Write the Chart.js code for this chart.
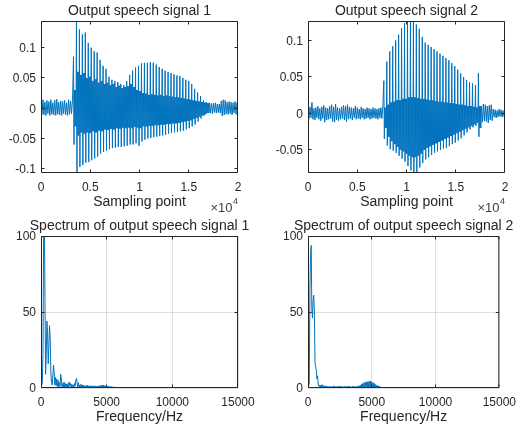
<!DOCTYPE html>
<html>
<head>
<meta charset="utf-8">
<script src="https://cdn.jsdelivr.net/npm/chart.js@4.4.1/dist/chart.umd.min.js"></script>
<style>
    html, body { margin: 0; padding: 0; background: #ffffff; }
    #fig { position: relative; width: 523px; height: 429px; overflow: hidden; }
    #fig canvas { position: absolute; }
</style>
</head>
<body>
<div id="fig">
    <canvas id="wave1" width="262" height="215" style="left:0;top:0"></canvas>
    <canvas id="wave2" width="261" height="215" style="left:262px;top:0"></canvas>
    <canvas id="spec1" width="262" height="214" style="left:0;top:215px"></canvas>
    <canvas id="spec2" width="261" height="214" style="left:262px;top:215px"></canvas>
</div>
<script>
// ---- data ----
// waveforms: noise is one value per 100 samples, voiced part is one pitch period
// (300 samples) per entry: pulse top, pulse bottom, and the dense band it sits in
const noiseStep = 100;
const periodLength = 300;

const lead1 = [
    0.012, -0.010, 0.014, -0.011, 0.010, -0.012, 0.013, -0.009, 0.011, -0.012,
    0.014, -0.010, 0.009, -0.011, 0.013, -0.012, 0.015, -0.010, 0.010, -0.011,
    0.012, -0.012, 0.011, -0.009, 0.013, -0.011, 0.009, -0.012, 0.014, -0.010,
    0.012, -0.009, 0.013
];
const onset1 = 3300;
const pulseTop1 = [
    0.085, 0.144, 0.130, 0.122, 0.125, 0.108, 0.100, 0.094, 0.092, 0.080,
    0.070, 0.065, 0.052, 0.047, 0.045, 0.043, 0.040, 0.038, 0.045, 0.055,
    0.062, 0.067, 0.070, 0.074, 0.075, 0.075, 0.076, 0.075, 0.072, 0.068,
    0.065, 0.062, 0.060, 0.058, 0.056, 0.054, 0.053, 0.050, 0.047, 0.045,
    0.040, 0.032, 0.026, 0.020, 0.013, 0.010
];
const pulseBottom1 = [
    -0.060, -0.107, -0.097, -0.094, -0.090, -0.089, -0.086, -0.083, -0.080, -0.075,
    -0.072, -0.070, -0.068, -0.066, -0.065, -0.064, -0.064, -0.063, -0.062, -0.060,
    -0.060, -0.058, -0.062, -0.055, -0.052, -0.050, -0.049, -0.048, -0.047, -0.046,
    -0.045, -0.044, -0.042, -0.041, -0.040, -0.039, -0.038, -0.037, -0.035, -0.033,
    -0.030, -0.027, -0.022, -0.017, -0.012, -0.008
];
const bandHigh1 = [
    0.030, 0.060, 0.055, 0.058, 0.050, 0.052, 0.045, 0.048, 0.042, 0.045,
    0.040, 0.042, 0.038, 0.040, 0.035, 0.037, 0.033, 0.035, 0.036, 0.040,
    0.035, 0.030, 0.028, 0.025, 0.024, 0.022, 0.023, 0.022, 0.021, 0.022,
    0.020, 0.021, 0.020, 0.019, 0.018, 0.018, 0.017, 0.016, 0.015, 0.014,
    0.013, 0.012, 0.011, 0.010, 0.009, 0.008
];
const bandLow1 = [
    -0.030, -0.045, -0.040, -0.042, -0.040, -0.041, -0.038, -0.040, -0.037, -0.038,
    -0.035, -0.036, -0.034, -0.035, -0.033, -0.034, -0.032, -0.033, -0.032, -0.033,
    -0.031, -0.032, -0.033, -0.030, -0.030, -0.029, -0.029, -0.028, -0.028, -0.027,
    -0.027, -0.026, -0.026, -0.025, -0.025, -0.024, -0.023, -0.022, -0.021, -0.020,
    -0.018, -0.016, -0.014, -0.012, -0.010, -0.008
];
const tail1 = [
    0.009, -0.008, 0.008, -0.009, 0.008, -0.007, 0.009, -0.008, 0.007, -0.007,
    0.007, -0.008, 0.012, -0.013, 0.014, -0.011, 0.013, -0.010, 0.010, -0.010,
    0.011, -0.009, 0.010, -0.011, 0.009, -0.008, 0.011, -0.010, 0.009, -0.007
];

const lead2 = [
    0.006, -0.007, 0.009, -0.006, 0.015, -0.008, 0.007, -0.009, 0.008, -0.006,
    0.010, -0.008, 0.007, -0.010, 0.009, -0.007, 0.011, -0.012, 0.008, -0.009,
    0.007, -0.008, 0.010, -0.007, 0.012, -0.011, 0.009, -0.012, 0.013, -0.009,
    0.008, -0.010, 0.007, -0.008, 0.009, -0.007, 0.011, -0.009, 0.010, -0.011,
    0.012, -0.008, 0.009, -0.007, 0.008, -0.009, 0.007, -0.006, 0.010, -0.008,
    0.008, -0.007, 0.006, -0.008, 0.009, -0.006, 0.007, -0.008, 0.006, -0.007,
    0.008, -0.006, 0.007, -0.008, 0.006, -0.007, 0.008, -0.006, 0.007, -0.007,
    0.006, -0.008, 0.007, -0.006, 0.008, -0.007, 0.010
];
const onset2 = 7700;
const pulseTop2 = [
    0.045, 0.071, 0.085, 0.092, 0.100, 0.108, 0.117, 0.124, 0.126, 0.1267,
    0.1267, 0.122, 0.116, 0.105, 0.097, 0.094, 0.091, 0.088, 0.085, 0.082,
    0.079, 0.076, 0.073, 0.069, 0.065, 0.060, 0.055, 0.050, 0.046, 0.043,
    0.041, 0.039, 0.055
];
const pulseBottom2 = [
    -0.035, -0.044, -0.049, -0.051, -0.054, -0.058, -0.062, -0.066, -0.072, -0.078,
    -0.0816, -0.080, -0.074, -0.068, -0.063, -0.060, -0.057, -0.054, -0.052, -0.050,
    -0.048, -0.047, -0.045, -0.042, -0.040, -0.037, -0.034, -0.030, -0.026, -0.022,
    -0.019, -0.017, -0.032
];
const bandHigh2 = [
    0.008, 0.012, 0.015, 0.016, 0.018, 0.018, 0.020, 0.020, 0.022, 0.022,
    0.022, 0.021, 0.020, 0.020, 0.019, 0.018, 0.018, 0.017, 0.016, 0.016,
    0.015, 0.015, 0.014, 0.014, 0.013, 0.012, 0.012, 0.011, 0.010, 0.010,
    0.009, 0.008, 0.010
];
const bandLow2 = [
    -0.020, -0.032, -0.038, -0.042, -0.046, -0.050, -0.052, -0.055, -0.058, -0.060,
    -0.060, -0.058, -0.055, -0.050, -0.047, -0.045, -0.043, -0.041, -0.039, -0.037,
    -0.035, -0.033, -0.031, -0.029, -0.027, -0.025, -0.023, -0.021, -0.019, -0.017,
    -0.015, -0.013, -0.020
];
const tail2 = [
    0.010, -0.012, 0.013, -0.010, 0.012, -0.011, 0.010, -0.013, 0.011, -0.009,
    0.012, -0.010, 0.006, -0.005, 0.005, -0.006, 0.004, -0.005, 0.006, -0.004,
    0.005, -0.005, 0.004, -0.004, 0.003
];

// spectra: one magnitude per 50 Hz up to 6000 Hz, then one per 500 Hz
const binStep = 50;
const coarseStep = 500;
const spec1Fine = [
    0.4, 1.5, 4, 22, 105, 125, 60, 9, 22, 44,
    36, 16, 28, 41, 33, 10, 4, 2, 8, 15,
    11, 2, 7, 1.5, 6, 1, 5, 0.8, 3.5, 1,
    9, 6, 0.5, 3, 0.3, 4, 0.4, 3, 0.2, 2.5,
    0.3, 3, 0.2, 4, 1.2, 3, 0.2, 2.5, 0.2, 2,
    0.6, 3, 1.2, 5, 6.4, 3, 0.6, 3.5, 0.3, 2,
    0.2, 2.5, 0.2, 1.8, 0.2, 2, 0.2, 1.5, 0.2, 1.6,
    0.2, 1.8, 0.2, 1.4, 0.2, 1.5, 0.2, 1.2, 0.2, 1.6,
    0.2, 1.2, 0.2, 1.4, 0.2, 1.1, 0.2, 1.5, 0.2, 1.3,
    0.2, 1.8, 0.3, 2, 0.3, 1.9, 0.2, 1.6, 0.2, 1.2,
    0.2, 1.1, 0.2, 1.2, 0.2, 1, 0.2, 0.9, 0.2, 0.8,
    0.2, 0.6, 0.2, 0.4, 0.3, 0.35, 0.3, 0.3, 0.25, 0.3,
    0.25
];
const spec1Coarse = [0.3, 0.25, 0.3, 0.25, 0.3, 0.25, 0.3, 0.25, 0.3, 0.25, 0.3, 0.25, 0.3, 0.25, 0.3, 0.25, 0.3, 0.25];
const spec2Fine = [
    0.4, 1.5, 3, 65, 88, 93.8, 52, 46, 58, 61,
    50, 17, 14, 12, 6, 8, 2.5, 1.2, 2, 0.3,
    1.8, 0.2, 2.2, 0.3, 1.6, 0.2, 1.2, 0.2, 1.5, 0.2,
    1.1, 0.2, 1, 0.2, 0.9, 0.2, 1.2, 0.2, 0.8, 0.2,
    1.4, 0.2, 1.2, 0.2, 0.9, 0.2, 1.1, 0.2, 1, 0.2,
    1.3, 0.2, 1.2, 0.2, 0.8, 0.2, 1, 0.2, 1.2, 0.2,
    0.9, 0.2, 1.1, 0.2, 1.3, 0.2, 1, 0.2, 0.8, 0.2,
    1.2, 0.2, 1, 0.2, 1.1, 0.2, 0.9, 0.2, 1.2, 0.2,
    1.5, 0.2, 1.8, 0.2, 2.5, 0.2, 3, 0.2, 3.5, 0.2,
    3.8, 0.2, 4, 0.2, 4.2, 0.2, 4.4, 0.2, 4.5, 0.2,
    4, 0.2, 3.5, 0.2, 3, 0.2, 2.2, 0.2, 1.8, 0.2,
    1.4, 0.2, 1, 0.2, 0.6, 0.2, 0.4, 0.3, 0.3, 0.25,
    0.3
];
const spec2Coarse = [0.25, 0.3, 0.25, 0.3, 0.25, 0.3, 0.25, 0.3, 0.25, 0.3, 0.25, 0.3, 0.25, 0.3, 0.25, 0.3, 0.25, 0.3];

// axes
const waveTicksX = [0, 5000, 10000, 15000, 20000];
const waveTickLabelsX = ['0', '0.5', '1', '1.5', '2'];
const wave1TicksY = [-0.1, -0.05, 0, 0.05, 0.1];
const wave1TickLabelsY = ['-0.1', '-0.05', '0', '0.05', '0.1'];
const wave2TicksY = [-0.05, 0, 0.05, 0.1];
const wave2TickLabelsY = ['-0.05', '0', '0.05', '0.1'];
const specTicksX = [0, 5000, 10000, 15000];
const specTickLabelsX = ['0', '5000', '10000', '15000'];
const specTicksY = [0, 50, 100];
const specTickLabelsY = ['0', '50', '100'];

// ---- styling ----
const AXIS_COLOR = '#262626';
const LINE_COLOR = '#0072BD';
const GRID_COLOR = 'rgba(38, 38, 38, 0.15)';
const FONT = '"Liberation Sans", Arial, Helvetica, sans-serif';
const TICK_LEN = 3;

Chart.defaults.font.family = FONT;
Chart.defaults.color = AXIS_COLOR;

function wavePoints(lead, onset, tops, bottoms, highs, lows, tail) {
    const pts = [];
    const sub = periodLength / 6;
    lead.forEach(function (v, i) { pts.push({ x: i * noiseStep, y: v }); });
    tops.forEach(function (top, j) {
        const start = onset + j * periodLength;
        [top, bottoms[j], highs[j], lows[j], highs[j], lows[j]].forEach(function (v, k) {
            pts.push({ x: start + k * sub, y: v });
        });
    });
    const tailStart = onset + tops.length * periodLength;
    tail.forEach(function (v, i) { pts.push({ x: tailStart + i * noiseStep, y: v }); });
    return pts;
}

function spectrumPoints(fine, coarse) {
    const pts = fine.map(function (v, i) { return { x: i * binStep, y: v }; });
    const fineEnd = (fine.length - 1) * binStep;
    coarse.forEach(function (v, i) { pts.push({ x: fineEnd + (i + 1) * coarseStep, y: v }); });
    return pts;
}

// box, inward ticks, title and the x10^4 note, MATLAB style
const matlabAxes = {
    id: 'matlabAxes',
    afterDatasetsDraw: function (chart, args, opts) {
        const ctx = chart.ctx;
        const a = chart.chartArea;
        const xs = chart.scales.x;
        const ys = chart.scales.y;
        const l = a.left + 0.5, r = a.right - 0.5, t = a.top + 0.5, b = a.bottom - 0.5;
        ctx.save();
        ctx.strokeStyle = AXIS_COLOR;
        ctx.lineWidth = 1;
        ctx.beginPath();
        ctx.rect(l, t, r - l, b - t);
        xs.ticks.forEach(function (tk) {
            const p = Math.min(r, Math.max(l, Math.floor(xs.getPixelForValue(tk.value)) + 0.5));
            ctx.moveTo(p, b); ctx.lineTo(p, b - TICK_LEN);
            ctx.moveTo(p, t); ctx.lineTo(p, t + TICK_LEN);
        });
        ys.ticks.forEach(function (tk) {
            const p = Math.min(b, Math.max(t, Math.floor(ys.getPixelForValue(tk.value)) + 0.5));
            ctx.moveTo(l, p); ctx.lineTo(l + TICK_LEN, p);
            ctx.moveTo(r, p); ctx.lineTo(r - TICK_LEN, p);
        });
        ctx.stroke();

        ctx.fillStyle = AXIS_COLOR;
        ctx.textAlign = 'center';
        ctx.textBaseline = 'alphabetic';
        ctx.font = '14px ' + FONT;
        ctx.fillText(opts.title, (a.left + a.right) / 2, 15);

        if (opts.exponent) {
            ctx.fillStyle = '#404040';
            ctx.textAlign = 'right';
            ctx.font = '9px ' + FONT;
            const supRight = a.right;
            ctx.fillText('4', supRight, 203.5);
            const supWidth = ctx.measureText('4').width;
            ctx.font = '13px ' + FONT;
            ctx.fillText('\u00d710', supRight - supWidth - 0.5, 211.5);
        }
        ctx.restore();
    }
};

function makeChart(id, cfg) {
    const canvas = document.getElementById(id);
    return new Chart(canvas.getContext('2d'), {
        type: 'line',
        data: {
            datasets: [{
                data: cfg.points,
                borderColor: LINE_COLOR,
                borderWidth: 1,
                // a solid "dash" keeps every segment, so dense bins stay filled
                borderDash: [1000, 0],
                pointRadius: 0,
                tension: 0,
                fill: false
            }]
        },
        options: {
            responsive: false,
            animation: false,
            events: [],
            layout: { padding: { left: 0, top: 21, right: cfg.rightPad, bottom: 0 } },
            plugins: {
                legend: { display: false },
                tooltip: { enabled: false },
                matlabAxes: { title: cfg.title, exponent: cfg.exponent }
            },
            scales: {
                x: {
                    type: 'linear',
                    min: cfg.xMin,
                    max: cfg.xMax,
                    afterBuildTicks: function (s) { s.ticks = cfg.xTicks.map(function (v) { return { value: v }; }); },
                    afterFit: function (s) { s.height = cfg.xAxisHeight; },
                    ticks: {
                        autoSkip: false,
                        maxRotation: 0,
                        padding: 7,
                        font: { size: 12 },
                        color: AXIS_COLOR,
                        callback: function (v, i) { return cfg.xTickLabels[i]; }
                    },
                    grid: { display: cfg.grid, color: GRID_COLOR, lineWidth: 1, drawTicks: false },
                    border: { display: false },
                    title: {
                        display: true,
                        text: cfg.xLabel,
                        color: AXIS_COLOR,
                        font: { size: 14 },
                        padding: { top: 0, bottom: cfg.labelPad }
                    }
                },
                y: {
                    type: 'linear',
                    min: cfg.yMin,
                    max: cfg.yMax,
                    afterBuildTicks: function (s) { s.ticks = cfg.yTicks.map(function (v) { return { value: v }; }); },
                    afterFit: function (s) { s.width = cfg.leftWidth; },
                    ticks: {
                        autoSkip: false,
                        padding: 5,
                        labelOffset: 1,
                        font: { size: 12 },
                        color: AXIS_COLOR,
                        callback: function (v, i) { return cfg.yTickLabels[i]; }
                    },
                    grid: { display: cfg.grid, color: GRID_COLOR, lineWidth: 1, drawTicks: false },
                    border: { display: false }
                }
            }
        },
        plugins: [matlabAxes]
    });
}

makeChart('wave1', {
    points: wavePoints(lead1, onset1, pulseTop1, pulseBottom1, bandHigh1, bandLow1, tail1),
    title: 'Output speech signal 1', xLabel: 'Sampling point', exponent: true, grid: false,
    xMin: 0, xMax: 20000, yMin: -0.107, yMax: 0.144,
    xTicks: waveTicksX, xTickLabels: waveTickLabelsX, yTicks: wave1TicksY, yTickLabels: wave1TickLabelsY,
    leftWidth: 41, rightPad: 24, xAxisHeight: 42, labelPad: 4
});

makeChart('wave2', {
    points: wavePoints(lead2, onset2, pulseTop2, pulseBottom2, bandHigh2, bandLow2, tail2),
    title: 'Output speech signal 2', xLabel: 'Sampling point', exponent: true, grid: false,
    xMin: 0, xMax: 20000, yMin: -0.0816, yMax: 0.1267,
    xTicks: waveTicksX, xTickLabels: waveTickLabelsX, yTicks: wave2TicksY, yTickLabels: wave2TickLabelsY,
    leftWidth: 46, rightPad: 18, xAxisHeight: 42, labelPad: 4
});

makeChart('spec1', {
    points: spectrumPoints(spec1Fine, spec1Coarse),
    title: 'Spectrum of output speech signal 1', xLabel: 'Frequency/Hz', exponent: false, grid: true,
    xMin: 0, xMax: 15000, yMin: 0, yMax: 100,
    xTicks: specTicksX, xTickLabels: specTickLabelsX, yTicks: specTicksY, yTickLabels: specTickLabelsY,
    leftWidth: 41, rightPad: 24, xAxisHeight: 41, labelPad: 3
});

makeChart('spec2', {
    points: spectrumPoints(spec2Fine, spec2Coarse),
    title: 'Spectrum of output speech signal 2', xLabel: 'Frequency/Hz', exponent: false, grid: true,
    xMin: 0, xMax: 15000, yMin: 0, yMax: 100,
    xTicks: specTicksX, xTickLabels: specTickLabelsX, yTicks: specTicksY, yTickLabels: specTickLabelsY,
    leftWidth: 46, rightPad: 18, xAxisHeight: 41, labelPad: 3
});
</script>
</body>
</html>
